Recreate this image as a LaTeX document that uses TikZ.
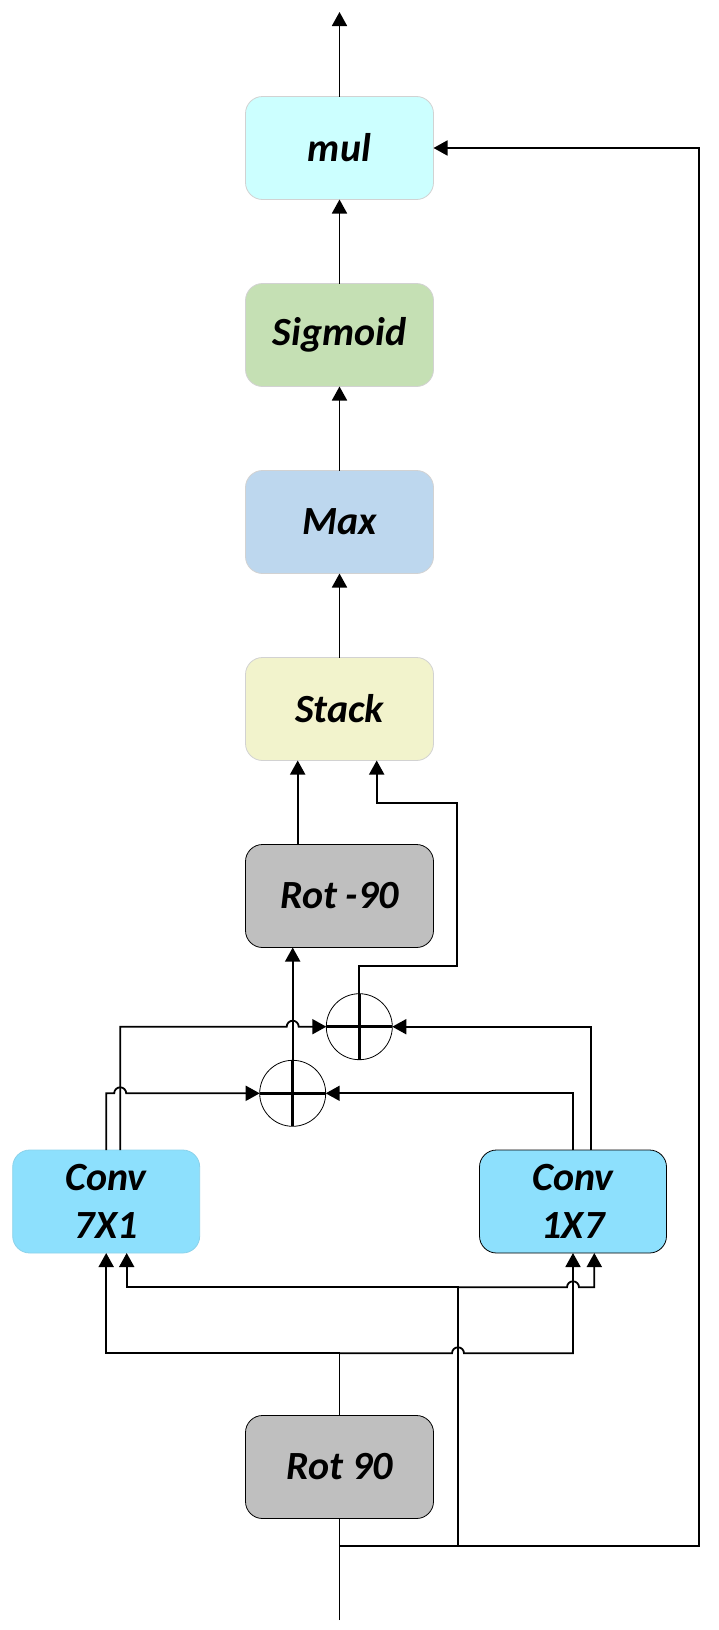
\documentclass[tikz,border=0pt]{standalone}
\usepackage{fontspec}
\setmainfont{Carlito}
\usepackage{tikz}
\usetikzlibrary{arrows.meta,positioning}

\definecolor{mulcyan}{HTML}{CCFFFF}
\definecolor{siggreen}{HTML}{C5E0B4}
\definecolor{maxblue}{HTML}{BDD7EE}
\definecolor{stackyellow}{HTML}{F2F3CC}
\definecolor{rotgray}{HTML}{BFBFBF}
\definecolor{convblue}{HTML}{8DE0FD}

\begin{document}
\begin{tikzpicture}[x=1pt,y=-1pt,node distance=84pt,
                    line width=1.8pt,
                    arr/.style={-{Triangle[length=14pt,width=15pt]}},
                    op node/.style={rectangle,rounded corners=17pt,minimum width=188pt,
                      minimum height=103pt,outer sep=0pt,draw=gray!35,line width=0.8pt,
                      font=\bfseries\itshape\fontsize{40}{48}\selectfont},
                    rot node/.style={op node,fill=rotgray,draw=black},
                    conv node/.style={op node,fill=convblue,minimum width=187pt,align=center},
                    add node/.style={circle,draw,line width=0.8pt,minimum size=66pt,
                      inner sep=0pt,outer sep=0pt}]
  \useasboundingbox (0,0) rectangle (718,1630);

  % main column
  \node[op node,fill=mulcyan] (mul) at (339.5,148) {mul};
  \node[op node,fill=siggreen] (sig) [below=of mul] {Sigmoid};
  \node[op node,fill=maxblue] (max) [below=of sig] {Max};
  \node[op node,fill=stackyellow] (stack) [below=of max] {Stack};
  \node[rot node] (rotm) [below=of stack] {Rot -90};

  % adders and convolutions
  \node[add node] (addB) at (359.3,1026.7) {};
  \node[add node] (addA) at (292.7,1093.3) {};
  \node[conv node,draw=convblue!85!gray] (c7) at (106.2,1201.5) {Conv\\7X1};
  \node[conv node,draw=black] (c1) at (573,1201.5) {Conv\\1X7};
  \node[rot node] (rot) at (339.5,1467) {Rot 90};

  \coordinate (out) at (339.5,12);
  \coordinate (in) at (339.5,1620);
  \coordinate (split) at (339.5,1546);
  \coordinate (tap) at (458,1546);
  \coordinate (fb) at (699,1546);

  \foreach \a in {addA,addB}
    \draw[line width=3.5pt] (\a.north) -- (\a.south) (\a.west) -- (\a.east);

  % upward chain
  \draw[arr] (mul.north) -- (out);
  \draw[arr] (sig.north) -- (mul.south);
  \draw[arr] (max.north) -- (sig.south);
  \draw[arr] (stack.north) -- (max.south);
  \draw[arr] ([xshift=-41.8pt]rotm.north) -- ([xshift=-41.8pt]stack.south);
  \draw[arr] (addA.north) -- (addA.north |- rotm.south);
  \draw[arr] (addB.north) -- (359.3,966) -- (457.3,966) -- (457.3,802.7)
    -- (376.7,802.7) -- ([xshift=37.2pt]stack.south);

  % conv outputs
  \draw[arr] ([xshift=14pt]c7.north) -- (120.2,1026.7) -- (286.7,1026.7)
    arc[start angle=180,end angle=0,radius=6pt] -- (addB.west);
  \draw[arr] (c7.north) -- (106.2,1093.3) -- (114.2,1093.3)
    arc[start angle=180,end angle=0,radius=6pt] -- (addA.west);
  \draw[arr] (c1.north) |- (addA.east);
  \draw[arr] ([xshift=18pt]c1.north) |- (addB.east);

  % conv inputs
  \draw (in) -- (rot.south);
  \draw (rot.north) -- (339.5,1353.3);
  \draw[arr] (339.5,1353.3) -| (c7.south);
  \draw[arr] (339.5,1353.3) -- (452,1353.3)
    arc[start angle=180,end angle=0,radius=6pt] -| (c1.south);
  \draw[arr] (tap) |- ([xshift=20.5pt]c7.south |- 0,1287.3) -- ([xshift=20.5pt]c7.south);
  \draw[arr] (458,1287.3) -- (567,1287.3)
    arc[start angle=180,end angle=0,radius=6pt] -- (594.3,1287.3) -- ([xshift=21.3pt]c1.south);

  % skip to mul
  \draw[arr] (split) -- (fb) |- (mul.east);
\end{tikzpicture}
\end{document}
